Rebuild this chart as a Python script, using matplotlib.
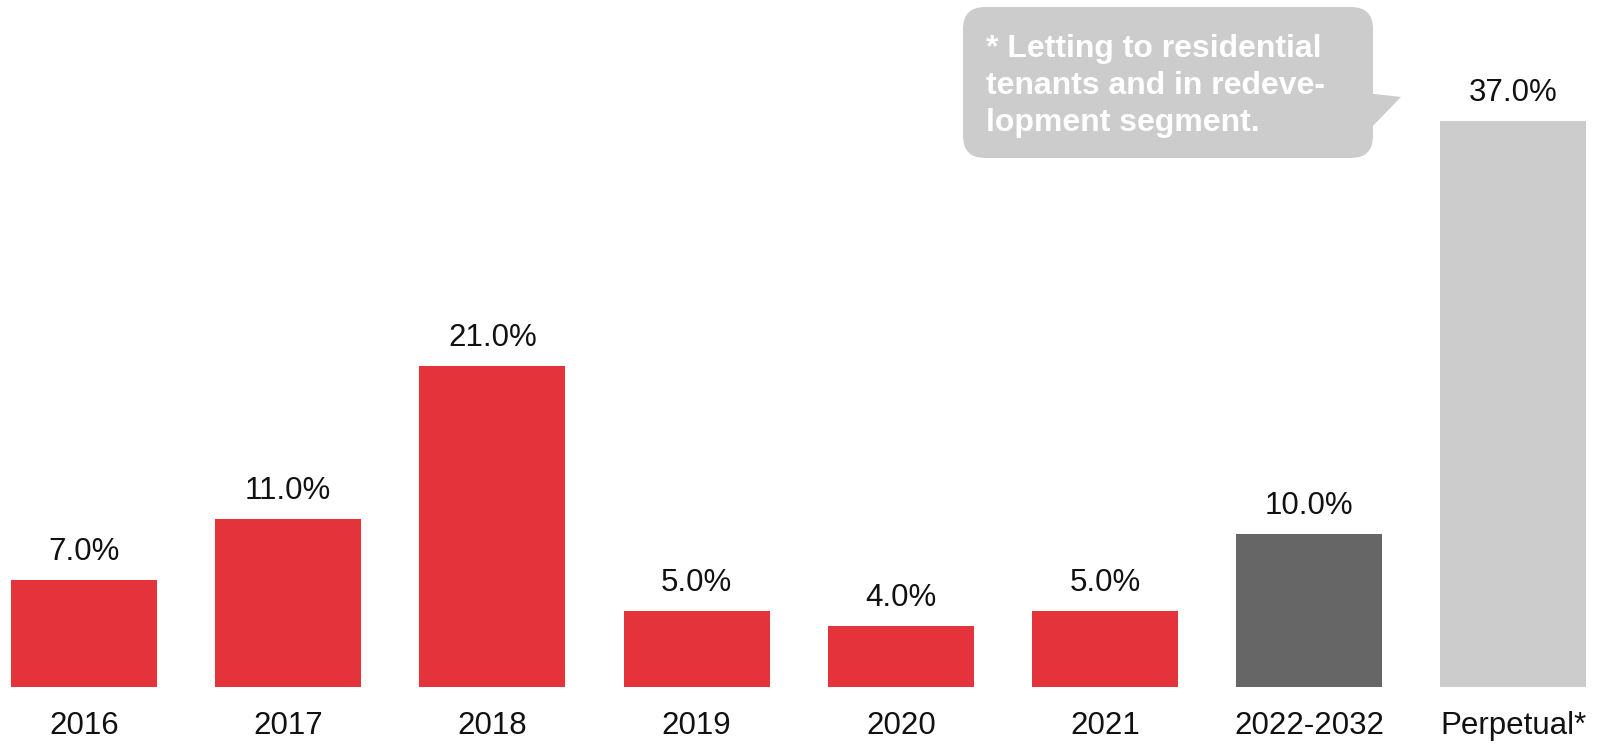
import matplotlib
matplotlib.use("Agg")
import matplotlib.pyplot as plt
from matplotlib.patches import FancyBboxPatch, Polygon

plt.rcParams["font.family"] = ["Liberation Sans", "DejaVu Sans"]

categories = ["2016", "2017", "2018", "2019", "2020", "2021", "2022-2032", "Perpetual*"]
shares = [7.0, 11.0, 21.0, 5.0, 4.0, 5.0, 10.0, 37.0]
bar_colors = ["#e4333a"] * 6 + ["#666666", "#cccccc"]
note_text = "* Letting to residential\ntenants and in redeve-\nlopment segment."

W, H = 1598, 744
fig = plt.figure(figsize=(W / 100, H / 100), dpi=100)
ax = fig.add_axes([0, 0, 1, 1])

pitch = 204.2
x0 = 84
px_per_pct = 15.3
base = 687

xs = list(range(len(categories)))
ax.bar(xs, shares, width=146 / pitch, color=bar_colors, linewidth=0)
ax.set_xlim(-x0 / pitch, (W - x0) / pitch)
ax.set_ylim(-(H - base) / px_per_pct, base / px_per_pct)
ax.axis("off")

for x, v, lab in zip(xs, shares, categories):
    ax.annotate(f"{v:.1f}%", xy=(x, v), xytext=(0, 20), textcoords="offset points",
                ha="center", va="center", fontsize=22.5, color="#111111")
    ax.text(x, -39 / px_per_pct, lab, ha="center", va="center", fontsize=22.5, color="#111111")

# speech-bubble note, drawn in pixel coordinates
ov = fig.add_axes([0, 0, 1, 1])
ov.set_xlim(0, W)
ov.set_ylim(H, 0)
ov.axis("off")
ov.patch.set_alpha(0)
ov.add_patch(FancyBboxPatch((963, 7), 410, 151, boxstyle="round,pad=0,rounding_size=22",
                            facecolor="#cccccc", edgecolor="none"))
ov.add_patch(Polygon([(1366, 93), (1401, 97), (1366, 133)], closed=True,
                     facecolor="#cccccc", edgecolor="none"))
ov.text(986, 86, note_text, ha="left", va="center", fontsize=23, fontweight="bold",
        color="white", linespacing=1.32)

fig.savefig("out.png", dpi=100)
